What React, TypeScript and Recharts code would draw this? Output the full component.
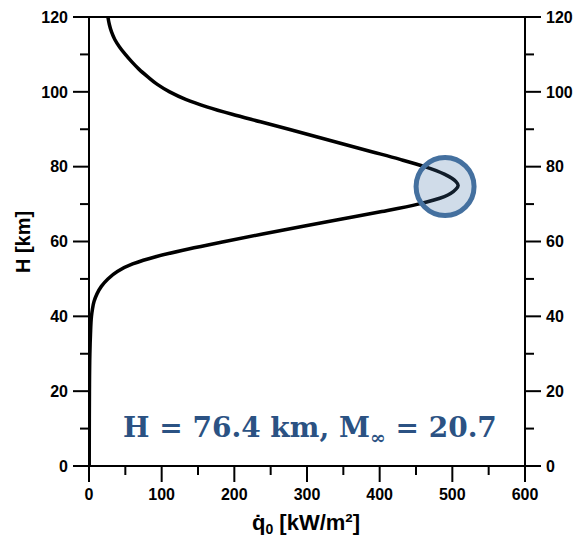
import React from 'react';
import { LineChart, Line, XAxis, YAxis, ReferenceDot, ReferenceLine } from 'recharts';

// altitude [km], top to bottom
const altitude = [120, 118, 116, 114, 112, 110, 108, 106, 104, 102, 100, 98, 96, 94, 92, 90, 88, 86, 84, 82, 80, 78, 76, 75, 74, 72, 70, 68, 66, 64, 62, 60, 58, 56, 54, 52, 50, 48, 46, 44, 42, 40, 35, 30, 20, 10, 0];
// stagnation heat flux [kW/m2]
const heatFlux = [26, 28, 31, 35.5, 42, 50, 59, 69, 81, 94, 111, 133, 162, 197, 236, 275, 313, 351, 389, 427, 462, 489, 505, 508, 505, 489, 453, 403, 348, 293, 239, 187, 137, 93, 60, 39, 26, 17, 11, 7, 4.8, 3.4, 2, 1.2, 0.6, 0.4, 0.3];

const xTicks = [0, 50, 100, 150, 200, 250, 300, 350, 400, 450, 500, 550, 600];
const yTicks = [0, 10, 20, 30, 40, 50, 60, 70, 80, 90, 100, 110, 120];

const peakFlux = 490;
const peakAltitude = 74.7;

const data = altitude.map((h, i) => ({ h, q: heatFlux[i] }));

const tickFont = { fontFamily: 'Liberation Sans, Arial, sans-serif', fontWeight: 700, fontSize: 16 };

const LeftTick = (props: any) => {
    const { x, y, payload } = props;
    const major = payload.value % 20 === 0;
    return (
        <g>
            <line x1={x} x2={x - (major ? 16 : 9)} y1={y} y2={y} stroke="#000" strokeWidth={2} />
            {major && (
                <text x={x - 21} y={y} dy="0.36em" textAnchor="end" fill="#000" {...tickFont}>
                    {payload.value}
                </text>
            )}
        </g>
    );
};

const RightTick = (props: any) => {
    const { x, y, payload } = props;
    const major = payload.value % 20 === 0;
    return (
        <g>
            <line x1={x} x2={x + (major ? 16 : 9)} y1={y} y2={y} stroke="#000" strokeWidth={2} />
            {major && (
                <text x={x + 21} y={y} dy="0.36em" textAnchor="start" fill="#000" {...tickFont}>
                    {payload.value}
                </text>
            )}
        </g>
    );
};

const BottomTick = (props: any) => {
    const { x, y, payload } = props;
    const major = payload.value % 100 === 0;
    return (
        <g>
            <line x1={x} x2={x} y1={y} y2={y + (major ? 16 : 9)} stroke="#000" strokeWidth={2} />
            {major && (
                <text x={x} y={y + 34} textAnchor="middle" fill="#000" {...tickFont}>
                    {payload.value}
                </text>
            )}
        </g>
    );
};

export default function App() {
    return (
        <div style={{ position: 'absolute', left: 0, top: 0, width: 576, height: 537, background: '#fff' }}>
            <LineChart
                width={576}
                height={537}
                data={data}
                layout="vertical"
                margin={{ top: 17, right: 0, bottom: 0, left: 0 }}
            >
                <XAxis
                    type="number"
                    dataKey="q"
                    domain={[0, 600]}
                    ticks={xTicks}
                    interval={0}
                    height={71}
                    tickSize={0}
                    tickMargin={0}
                    tickLine={false}
                    axisLine={{ stroke: '#000', strokeWidth: 2 }}
                    tick={<BottomTick />}
                    allowDataOverflow
                />
                <YAxis
                    yAxisId="left"
                    type="number"
                    dataKey="h"
                    domain={[0, 120]}
                    reversed
                    ticks={yTicks}
                    interval={0}
                    width={89}
                    tickSize={0}
                    tickMargin={0}
                    tickLine={false}
                    axisLine={{ stroke: '#000', strokeWidth: 2 }}
                    tick={<LeftTick />}
                    allowDataOverflow
                />
                <YAxis
                    yAxisId="right"
                    orientation="right"
                    type="number"
                    dataKey="h"
                    domain={[0, 120]}
                    reversed
                    ticks={yTicks}
                    interval={0}
                    width={51}
                    tickSize={0}
                    tickMargin={0}
                    tickLine={false}
                    axisLine={{ stroke: '#000', strokeWidth: 2 }}
                    tick={<RightTick />}
                    allowDataOverflow
                />
                <ReferenceLine yAxisId="left" y={120} stroke="#000" strokeWidth={2} />
                <Line
                    yAxisId="left"
                    dataKey="q"
                    type="monotone"
                    stroke="#000"
                    strokeWidth={3.5}
                    dot={false}
                    isAnimationActive={false}
                />
                <ReferenceDot
                    yAxisId="left"
                    x={peakFlux}
                    y={peakAltitude}
                    r={29}
                    fill="#4472a8"
                    fillOpacity={0.25}
                    stroke="#44709f"
                    strokeWidth={5}
                />
            </LineChart>
            <svg width={576} height={537} style={{ position: 'absolute', left: 0, top: 0, pointerEvents: 'none' }}>
                <text x={123} y={437} fill="#2b5283" fontFamily="DejaVu Serif, serif" fontWeight={700} fontSize={28}>
                    H = 76.4 km, M
                    <tspan dy={7} fontSize={19}>∞</tspan>
                    <tspan dy={-7}> = 20.7</tspan>
                </text>
                <text x={306} y={530} textAnchor="middle" fill="#000" fontFamily="Liberation Sans, Arial, sans-serif" fontWeight={700} fontSize={22}>
                    q̇
                    <tspan dy={4} fontSize={14}>0</tspan>
                    <tspan dy={-4}> [kW/m²]</tspan>
                </text>
                <text
                    x={23}
                    y={242}
                    transform="rotate(-90 23 242)"
                    textAnchor="middle"
                    dominantBaseline="central"
                    fill="#000"
                    fontFamily="Liberation Sans, Arial, sans-serif"
                    fontWeight={700}
                    fontSize={20}
                >
                    H [km]
                </text>
            </svg>
        </div>
    );
}
